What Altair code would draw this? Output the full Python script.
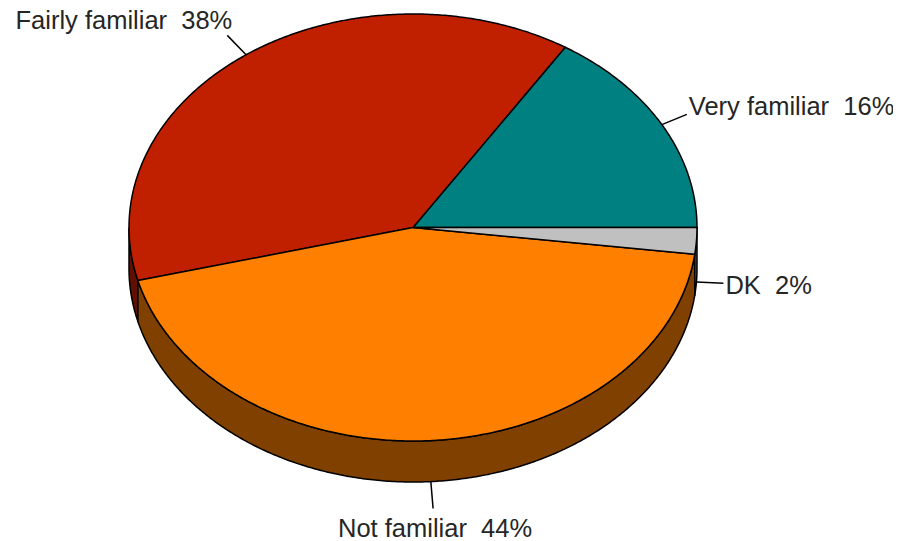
import numpy as np
import pandas as pd
import altair as alt

# ---- data ----
categories = ["Very familiar", "Fairly familiar", "Not familiar", "DK"]
shares = [16, 38, 44, 2]
top_colors = ["#008080", "#C02000", "#FF8000", "#C0C0C0"]
side_colors = ["#004040", "#601000", "#804000", "#606060"]

# ---- geometry of the tilted pie (page pixel space) ----
CX, CY, RX, RY, DEPTH = 413.0, 227.5, 284.0, 213.5, 41.0
LEAD = 27.0

total = float(sum(shares))
ends = np.cumsum(shares) / total * 360.0
starts = np.concatenate([[0.0], ends[:-1]])


def pt(a, dy=0.0):
    r = np.radians(a)
    return CX + RX * np.cos(r), CY - RY * np.sin(r) + dy


top_rows, side_rows, lab_rows = [], [], []
for i, (cat, a0, a1) in enumerate(zip(categories, starts, ends)):
    n = max(2, int(np.ceil((a1 - a0) / 0.5)))
    angs = np.linspace(a0, a1, n + 1)
    pts = [(CX, CY)] + [pt(a) for a in angs] + [(CX, CY)]
    for k, (x, y) in enumerate(pts):
        top_rows.append(dict(id=cat, order=k, x=x, y=y, fill=top_colors[i]))

    s0, s1 = max(a0, 180.0), min(a1, 360.0)
    if s1 > s0:
        m = max(2, int(np.ceil((s1 - s0) / 0.5)))
        sa = np.linspace(s0, s1, m + 1)
        spts = [pt(a) for a in sa] + [pt(a, DEPTH) for a in sa[::-1]]
        spts.append(spts[0])
        for k, (x, y) in enumerate(spts):
            side_rows.append(dict(id=cat, order=k, x=x, y=y, fill=side_colors[i]))

    mid = (a0 + a1) / 2.0
    dy = DEPTH if 180.0 < mid < 360.0 else 0.0
    px, py = pt(mid, dy)
    vx, vy = px - CX, (py - dy) - CY
    norm = np.hypot(vx, vy)
    qx, qy = px + LEAD * vx / norm, py + LEAD * vy / norm
    c, s = np.cos(np.radians(mid)), np.sin(np.radians(mid))
    if c > 0.3:
        align, tx = "left", qx + 2
    elif c < -0.3:
        align, tx = "right", qx + 5
    else:
        align, tx = "center", qx + 2
    ty = qy - 19.0 * s + 1.5
    lab_rows.append(dict(label=f"{cat} \u00a0{shares[i]}%", px=px, py=py,
                         qx=qx, qy=qy, tx=tx, ty=ty, align=align))

top_df = pd.DataFrame(top_rows)
side_df = pd.DataFrame(side_rows)
lab_df = pd.DataFrame(lab_rows)

xs = alt.Scale(domain=[8, 893], nice=False, zero=False)
ys = alt.Scale(domain=[8, 541], nice=False, zero=False, reverse=True)


def poly_layer(df):
    return alt.Chart(df).mark_line(
        filled=True, stroke="black", strokeWidth=1.5, strokeJoin="round"
    ).encode(
        x=alt.X("x:Q", scale=xs, axis=None),
        y=alt.Y("y:Q", scale=ys, axis=None),
        detail="id:N",
        order="order:Q",
        color=alt.Color("fill:N", scale=None),
    )


sides = poly_layer(side_df)
tops = poly_layer(top_df)

leaders = alt.Chart(lab_df).mark_rule(color="black", strokeWidth=1.5).encode(
    x=alt.X("px:Q", scale=xs, axis=None),
    y=alt.Y("py:Q", scale=ys, axis=None),
    x2="qx:Q",
    y2="qy:Q",
)

texts = []
for al in ["left", "right", "center"]:
    texts.append(
        alt.Chart(lab_df).transform_filter(alt.datum.align == al).mark_text(
            align=al, baseline="middle", font="Liberation Sans",
            fontSize=25.5, color="#262626", clip=False
        ).encode(
            x=alt.X("tx:Q", scale=xs, axis=None),
            y=alt.Y("ty:Q", scale=ys, axis=None),
            text="label:N",
        )
    )

chart = alt.layer(sides, tops, leaders, *texts).properties(
    width=885, height=533, autosize=alt.AutoSizeParams(type="none"), padding=0
).configure_view(stroke=None)

chart.save("out.html", embed_options={"renderer": "svg", "actions": False})
